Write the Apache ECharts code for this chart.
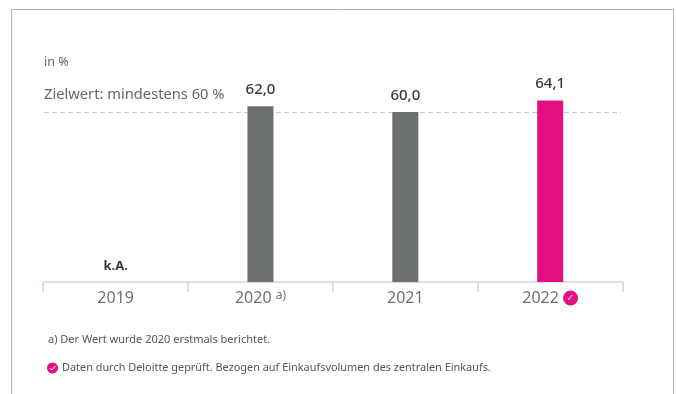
<!DOCTYPE html>
<html>
<head>
<meta charset="utf-8">
<style>html,body{margin:0;padding:0;background:#fff}#c{width:676px;height:394px}</style>
<script src="https://cdn.jsdelivr.net/npm/echarts@6/dist/echarts.min.js"></script>
</head>
<body>
<div id="c"></div>
<script>
const years = ['2019', '2020', '2021', '2022'];
const values = [null, 62.0, 60.0, 64.1];
const yearNotes = ['', 'a)', '', 'check'];
const noData = 'k.A.';
const targetValue = 60;
const unitText = 'in %';
const targetText = 'Zielwert: mindestens 60 %';
const footnoteA = 'a) Der Wert wurde 2020 erstmals berichtet.';
const footnoteCheck = 'Daten durch Deloitte geprüft. Bezogen auf Einkaufsvolumen des zentralen Einkaufs.';

const FONT = '"Noto Sans", sans-serif';
const GREY = '#6b6f6e';
const MAGENTA = '#e20f80';
const FRAME = '#b4b4b4';

const chart = echarts.init(document.getElementById('c'), null, { renderer: 'canvas' });
chart.setOption({
  animation: false,
  backgroundColor: '#fff',
  textStyle: { fontFamily: FONT },
  grid: { left: 43.2, width: 579.4, top: 83.67, height: 198.33 },
  xAxis: {
    type: 'category',
    data: years,
    boundaryGap: true,
    axisLine: { lineStyle: { color: '#ccd6e6', width: 1.5 } },
    axisTick: { show: true, interval: 0, length: 10, alignWithLabel: false, lineStyle: { color: '#ccd6e6', width: 1.5 } },
    axisLabel: {
      interval: 0,
      hideOverlap: false,
      margin: 8,
      fontFamily: FONT,
      fontSize: 16,
      color: '#707070',
      formatter: (y, i) => {
        if (yearNotes[i] === 'a)') return y + ' {sup|a)}';
        if (yearNotes[i] === 'check') return y + ' {check|✓}';
        return y;
      },
      rich: {
        sup: { fontSize: 12, color: '#707070', verticalAlign: 'top', fontFamily: FONT },
        check: {
          width: 15, height: 15, lineHeight: 15, align: 'center', borderRadius: 7.5,
          backgroundColor: MAGENTA, color: '#fbd3e8', fontSize: 10, fontFamily: '"DejaVu Sans"'
        }
      }
    }
  },
  yAxis: { type: 'value', min: 0, max: 70, show: false, splitLine: { show: false } },
  series: [{
    type: 'bar',
    z: 3,
    barWidth: 26,
    data: values.map((v, i) => ({
      value: v === null ? 0 : v,
      itemStyle: { color: i === values.length - 1 ? MAGENTA : GREY },
      label: v === null
        ? { formatter: noData, fontSize: 13, fontWeight: 700, distance: 9 }
        : { formatter: v.toFixed(1).replace('.', ',') }
    })),
    label: {
      show: true,
      position: 'top',
      distance: 9,
      fontFamily: FONT,
      fontSize: 15,
      fontWeight: 500,
      color: '#3a3a3a'
    },
    markLine: {
      silent: true,
      z: 1,
      symbol: 'none',
      label: { show: false },
      lineStyle: { type: [5, 3], color: '#c8c8c8', width: 1 },
      data: [[
        { x: 44, yAxis: targetValue },
        { x: 621, yAxis: targetValue }
      ]]
    }
  }],
  graphic: [
    { type: 'polyline', silent: true, shape: { points: [[11.5, 394], [11.5, 9.5], [673.5, 9.5], [673.5, 394]] },
      style: { stroke: FRAME, fill: null, lineWidth: 1 } },
    { type: 'text', silent: true, left: 44, top: 56,
      style: { text: unitText, font: '12.5px ' + FONT, fill: '#666' } },
    { type: 'text', silent: true, left: 44, top: 87,
      style: { text: targetText, font: '14.7px ' + FONT, fill: '#666' } },
    { type: 'text', silent: true, left: 48, top: 334,
      style: { text: footnoteA, font: '11px ' + FONT, fill: '#555' } },
    { type: 'circle', silent: true, shape: { cx: 52.5, cy: 368, r: 5.5 }, style: { fill: MAGENTA } },
    { type: 'polyline', silent: true, shape: { points: [[49.8, 368], [51.8, 370], [55.4, 366]] },
      style: { stroke: '#fff', fill: null, lineWidth: 1 } },
    { type: 'text', silent: true, left: 62, top: 362,
      style: { text: footnoteCheck, font: '10.9px ' + FONT, fill: '#555' } }
  ]
});
</script>
</body>
</html>
